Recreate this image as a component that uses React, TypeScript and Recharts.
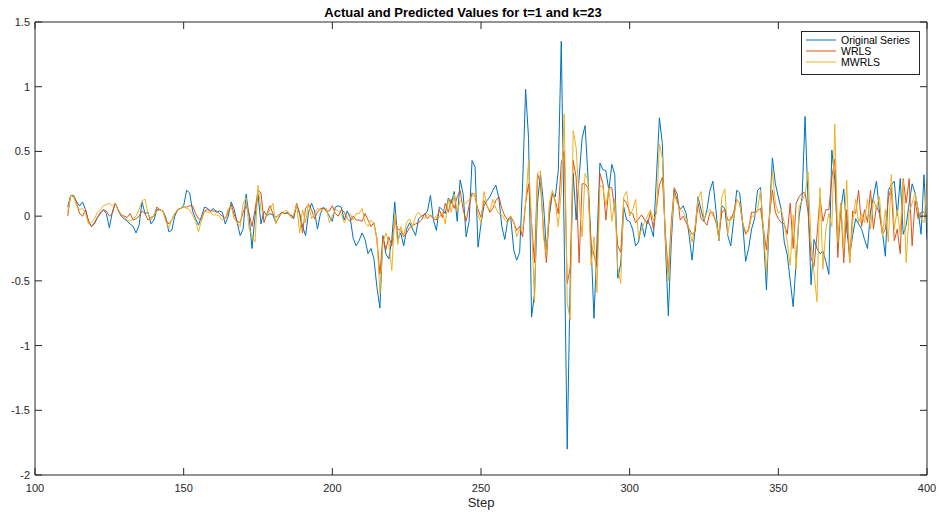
import React from "react";
import { LineChart, Line, XAxis, YAxis, Legend } from "recharts";

const firstStep = 111;

const original = [
  0.07, 0.16, 0.16, 0.11, 0.08, 0.11, 0.05, -0.04, -0.08, -0.06,
  -0.01, 0.02, 0.05, 0.02, -0.09, 0.03, 0.10, 0.04, 0.00, -0.02,
  -0.04, -0.06, -0.08, -0.13, -0.07, 0.11, 0.02, 0.03, -0.06, -0.03,
  0.05, 0.05, 0.04, -0.01, -0.12, -0.11, 0.00, 0.05, 0.06, 0.08,
  0.20, 0.18, 0.04, -0.02, -0.07, 0.00, 0.07, 0.06, 0.04, 0.06,
  0.03, 0.04, 0.03, -0.06, 0.00, 0.11, 0.05, -0.05, -0.15, -0.10,
  0.17, 0.00, -0.25, 0.00, 0.17, -0.06, 0.04, 0.00, 0.02, 0.01,
  -0.05, -0.01, 0.03, 0.02, 0.03, 0.00, -0.02, 0.09, 0.02, -0.08,
  -0.15, 0.03, 0.10, 0.04, -0.10, 0.02, 0.07, 0.04, 0.00, -0.04,
  0.07, 0.08, 0.07, -0.03, 0.04, -0.01, -0.17, -0.23, -0.19, -0.13,
  -0.18, -0.29, -0.25, -0.33, -0.55, -0.71, -0.15, -0.29, -0.33, -0.18,
  0.11, -0.18, -0.13, -0.23, -0.10, -0.05, -0.10, -0.15, -0.02, 0.00,
  0.01, 0.04, 0.16, -0.03, -0.11, 0.07, 0.05, 0.02, 0.14, 0.10,
  0.19, -0.04, 0.28, 0.17, -0.16, -0.04, 0.43, 0.38, -0.24, -0.06,
  0.08, 0.12, 0.15, 0.20, 0.24, 0.14, -0.08, -0.18, -0.03, -0.01,
  -0.26, -0.34, -0.28, 0.25, 0.98, 0.60, -0.78, -0.60, 0.10, 0.33,
  0.10, -0.26, 0.00, 0.18, 0.15, 0.35, 1.35, -0.20, -1.80, -0.50,
  0.33, -0.03, 0.30, 0.60, 0.70, 0.30, -0.21, -0.79, -0.20, 0.41,
  0.36, 0.35, 0.20, 0.40, 0.32, -0.48, -0.37, 0.07, -0.03, -0.04,
  -0.10, -0.23, -0.20, -0.05, -0.16, -0.03, -0.08, -0.16, 0.30, 0.76,
  0.56, -0.20, -0.77, -0.20, 0.20, 0.12, 0.05, 0.08, 0.02, -0.15,
  -0.34, -0.10, 0.15, 0.05, -0.04, 0.05, 0.20, 0.27, 0.05, -0.19,
  0.08, 0.06, -0.15, -0.23, -0.03, 0.20, 0.18, -0.05, -0.35, -0.25,
  -0.10, -0.02, 0.20, 0.22, -0.15, -0.57, 0.00, 0.45, 0.25, 0.15,
  0.05, -0.20, -0.30, -0.50, -0.70, -0.35, 0.00, 0.15, 0.77, 0.10,
  -0.53, -0.18, -0.25, -0.29, -0.27, -0.35, -0.45, 0.51, 0.28, -0.20,
  0.05, 0.21, -0.10, -0.30, -0.15, -0.02, -0.06, -0.10, -0.18, -0.25,
  0.04, 0.15, 0.27, 0.04, -0.12, -0.31, 0.20, 0.24, 0.27, 0.00,
  0.29, -0.14, -0.07, 0.10, 0.25, 0.18, 0.05, -0.14, 0.32, -0.18,
];

const wrls = [
  0.00, 0.16, 0.15, 0.10, 0.02, 0.00, 0.05, -0.04, -0.08, -0.05,
  -0.01, 0.03, 0.05, 0.04, 0.00, 0.02, 0.10, 0.05, 0.01, 0.00,
  -0.01, 0.02, -0.03, -0.02, 0.00, 0.04, 0.02, -0.03, -0.01, 0.00,
  0.07, 0.05, 0.04, -0.03, -0.06, -0.03, 0.02, 0.05, 0.06, 0.07,
  0.07, 0.08, 0.08, 0.02, -0.02, -0.03, 0.04, 0.05, 0.04, 0.04,
  0.04, 0.02, 0.00, -0.02, 0.03, 0.09, 0.01, -0.04, -0.05, 0.03,
  0.08, 0.02, -0.08, 0.05, 0.20, 0.18, -0.05, 0.02, 0.08, 0.02,
  -0.01, 0.01, 0.03, 0.02, 0.02, 0.01, -0.01, 0.10, 0.02, -0.13,
  0.06, 0.09, 0.05, -0.02, 0.03, 0.06, 0.06, 0.04, 0.04, 0.08,
  0.02, 0.00, 0.05, 0.03, -0.02, -0.04, 0.00, -0.03, -0.03, -0.04,
  0.02, -0.03, -0.08, -0.05, -0.18, -0.45, -0.16, -0.26, -0.16, -0.23,
  -0.03, -0.10, -0.11, -0.16, -0.13, -0.09, -0.07, -0.06, -0.05, -0.03,
  0.02, -0.02, 0.01, -0.02, -0.03, 0.05, -0.01, 0.10, 0.03, 0.13,
  0.06, 0.15, 0.20, 0.05, -0.04, 0.08, 0.18, 0.15, 0.05, -0.01,
  0.12, 0.08, 0.03, 0.06, 0.12, 0.15, 0.06, 0.00, -0.03, 0.00,
  -0.05, -0.11, -0.08, -0.16, 0.10, 0.25, -0.05, -0.36, 0.33, 0.25,
  -0.10, -0.36, 0.05, 0.18, 0.12, 0.02, 0.41, 0.50, -0.52, -0.40,
  0.43, 0.30, -0.36, 0.25, 0.25, 0.22, -0.21, -0.30, -0.39, 0.33,
  0.25, -0.03, 0.22, 0.22, 0.05, -0.23, -0.28, 0.13, 0.10, 0.03,
  0.02, -0.05, -0.02, 0.01, -0.03, -0.06, 0.03, -0.10, 0.06, 0.24,
  0.30, -0.13, -0.44, -0.05, 0.22, 0.17, -0.03, 0.00, -0.05, -0.10,
  -0.14, -0.12, 0.10, -0.02, -0.04, -0.07, 0.03, 0.03, -0.05, -0.14,
  0.03, 0.05, -0.03, -0.03, 0.03, 0.13, 0.10, -0.05, -0.14, -0.10,
  0.03, 0.03, 0.04, 0.06, -0.10, -0.26, 0.00, 0.20, 0.03, -0.02,
  -0.05, -0.06, -0.14, 0.10, -0.25, 0.10, 0.15, 0.18, 0.18, 0.03,
  -0.32, -0.39, -0.15, 0.14, -0.04, 0.05, 0.05, 0.30, 0.44, -0.32,
  0.10, -0.36, 0.05, -0.36, 0.04, 0.02, 0.20, -0.08, 0.05, -0.05,
  0.20, -0.10, 0.08, 0.02, -0.14, -0.10, 0.14, 0.22, -0.19, -0.10,
  -0.29, 0.29, 0.10, 0.29, -0.23, 0.12, -0.02, 0.03, 0.03, 0.00,
];

const mwrls = [
  0.03, 0.16, 0.15, 0.08, 0.05, 0.06, 0.02, -0.06, -0.05, -0.02,
  0.03, 0.05, 0.08, 0.09, 0.10, 0.08, 0.10, 0.04, 0.01, -0.01,
  -0.03, -0.04, -0.02, 0.00, 0.05, 0.12, 0.13, 0.02, -0.03, 0.01,
  0.04, 0.05, 0.04, -0.04, -0.09, -0.03, 0.02, 0.05, 0.06, 0.07,
  0.06, 0.05, 0.01, -0.04, -0.12, -0.03, 0.04, 0.03, 0.03, 0.01,
  0.01, 0.00, -0.03, -0.02, 0.06, 0.07, -0.02, -0.05, -0.08, 0.10,
  0.14, -0.10, -0.15, -0.20, 0.24, 0.05, 0.03, 0.00, 0.05, 0.10,
  -0.06, 0.00, 0.02, 0.04, 0.04, -0.01, 0.01, 0.09, -0.13, 0.05,
  -0.05, 0.10, -0.02, 0.02, 0.06, 0.05, 0.05, 0.06, -0.05, 0.00,
  0.05, 0.04, 0.02, -0.05, 0.00, 0.02, -0.03, 0.02, 0.02, 0.06,
  -0.05, -0.08, -0.03, -0.06, -0.17, -0.60, -0.21, -0.13, -0.20, -0.42,
  0.02, -0.22, -0.08, -0.15, -0.05, -0.02, -0.08, 0.00, 0.03, 0.00,
  -0.02, 0.02, 0.00, -0.02, 0.00, -0.01, 0.03, -0.06, 0.13, 0.03,
  0.17, 0.04, 0.12, 0.10, 0.10, 0.13, 0.15, 0.18, 0.01, -0.05,
  0.19, 0.08, 0.04, 0.13, 0.06, 0.02, 0.01, -0.03, -0.05, 0.00,
  -0.04, -0.16, -0.10, -0.10, 0.10, 0.43, -0.05, -0.67, 0.33, 0.35,
  -0.16, -0.30, 0.10, 0.20, 0.10, -0.08, 0.20, 0.79, -0.67, -0.80,
  0.66, 0.53, 0.13, -0.16, 0.33, 0.28, -0.38, -0.16, -0.59, 0.24,
  0.22, 0.08, 0.22, -0.04, 0.13, -0.40, -0.52, 0.15, 0.19, 0.00,
  0.05, 0.13, -0.17, -0.10, -0.05, 0.00, 0.05, -0.03, 0.02, 0.56,
  0.45, -0.18, -0.50, -0.10, 0.18, 0.10, 0.05, 0.03, -0.02, -0.10,
  -0.20, -0.08, 0.13, 0.19, -0.03, 0.03, 0.05, 0.00, -0.02, -0.18,
  0.15, 0.21, -0.14, 0.00, -0.02, 0.13, 0.10, -0.05, -0.12, -0.12,
  0.00, 0.00, 0.05, 0.20, -0.10, -0.44, -0.02, 0.35, 0.10, 0.02,
  0.05, -0.05, -0.20, -0.38, 0.01, -0.41, 0.07, 0.12, 0.17, 0.34,
  -0.20, -0.44, -0.66, 0.22, -0.41, -0.10, 0.02, -0.08, 0.71, -0.20,
  0.10, -0.25, 0.28, -0.36, -0.05, 0.13, -0.05, 0.02, -0.05, 0.13,
  -0.10, 0.13, 0.06, 0.15, -0.15, 0.05, -0.20, 0.32, -0.10, 0.05,
  -0.14, 0.28, -0.36, 0.03, 0.10, 0.18, 0.05, -0.02, -0.05, 0.28,
];

const xTicks = [100, 150, 200, 250, 300, 350, 400];
const yTicks = [-2, -1.5, -1, -0.5, 0, 0.5, 1, 1.5];
const seriesNames = ["Original Series", "WRLS", "MWRLS"];
const seriesColors = ["#0072BD", "#D95319", "#EDB120"];

const data = original.map((v, i) => ({
  step: firstStep + i,
  original: v,
  wrls: wrls[i],
  mwrls: mwrls[i],
}));

const FONT = "'Liberation Sans', Arial, sans-serif";
const AXIS = "#262626";
const TL = 7;

const BottomTick = (props: any) => {
  const { x, y, payload } = props;
  return (
    <g>
      <line x1={x} y1={y} x2={x} y2={y - TL} stroke={AXIS} strokeWidth={1} />
      <text x={x} y={y + 17} textAnchor="middle" fontSize={11} fill={AXIS} fontFamily={FONT}>
        {payload.value}
      </text>
    </g>
  );
};
const TopTick = (props: any) => {
  const { x, y } = props;
  return <line x1={x} y1={y} x2={x} y2={y + TL} stroke={AXIS} strokeWidth={1} />;
};
const LeftTick = (props: any) => {
  const { x, y, payload } = props;
  return (
    <g>
      <line x1={x} y1={y} x2={x + TL} y2={y} stroke={AXIS} strokeWidth={1} />
      <text x={x - 5} y={y + 4} textAnchor="end" fontSize={11} fill={AXIS} fontFamily={FONT}>
        {payload.value}
      </text>
    </g>
  );
};
const RightTick = (props: any) => {
  const { x, y } = props;
  return <line x1={x} y1={y} x2={x - TL} y2={y} stroke={AXIS} strokeWidth={1} />;
};

const LegendBox = () => (
  <svg width={119} height={44} style={{ display: "block" }}>
    <rect x={0.5} y={0.5} width={118} height={43} fill="#fff" stroke={AXIS} strokeWidth={1} />
    {seriesNames.map((n, i) => (
      <g key={n}>
        <line x1={5} x2={35} y1={9 + i * 11} y2={9 + i * 11} stroke={seriesColors[i]} strokeWidth={1} />
        <text x={40} y={12.5 + i * 11} fontSize={10.5} fill="#000" fontFamily={FONT}>
          {n}
        </text>
      </g>
    ))}
  </svg>
);

export default function App() {
  return (
    <div style={{ position: "absolute", left: 0, top: 0, width: 939, height: 514, background: "#fff" }}>
      <LineChart
        width={939}
        height={514}
        data={data}
        margin={{ top: 17, right: 7, bottom: 19, left: 5 }}
        style={{ fontFamily: FONT }}
      >
        <XAxis
          dataKey="step"
          type="number"
          domain={[100, 400]}
          ticks={xTicks}
          allowDataOverflow
          height={20}
          tickSize={0}
          tickMargin={0}
          tick={<BottomTick />}
          tickLine={false}
          axisLine={{ stroke: AXIS }}
          interval={0}
          label={{ value: "Step", position: "bottom", offset: 3, fontSize: 13, fill: AXIS, fontFamily: FONT }}
        />
        <XAxis
          xAxisId="top"
          orientation="top"
          dataKey="step"
          type="number"
          domain={[100, 400]}
          ticks={xTicks}
          allowDataOverflow
          height={5}
          tickSize={0}
          tickMargin={0}
          tick={<TopTick />}
          tickLine={false}
          axisLine={{ stroke: AXIS }}
          interval={0}
          label={{
            value: "Actual and Predicted Values for t=1 and k=23",
            position: "top",
            offset: 0,
            dx: -18,
            fontSize: 13,
            fontWeight: "bold",
            fill: "#000",
            fontFamily: FONT,
          }}
        />
        <YAxis
          type="number"
          domain={[-2, 1.5]}
          ticks={yTicks}
          allowDataOverflow
          width={30}
          tickSize={0}
          tickMargin={0}
          tick={<LeftTick />}
          tickLine={false}
          axisLine={{ stroke: AXIS }}
          interval={0}
        />
        <YAxis
          yAxisId="right"
          orientation="right"
          type="number"
          domain={[-2, 1.5]}
          ticks={yTicks}
          allowDataOverflow
          width={5}
          tickSize={0}
          tickMargin={0}
          tick={<RightTick />}
          tickLine={false}
          axisLine={{ stroke: AXIS }}
          interval={0}
        />
        <Legend
          layout="vertical"
          align="center"
          verticalAlign="middle"
          content={<LegendBox />}
          wrapperStyle={{ top: 31, left: 801, width: 119, height: 44, right: "auto", bottom: "auto" }}
        />
        <Line dataKey="original" name={seriesNames[0]} stroke={seriesColors[0]} strokeWidth={1} dot={false} isAnimationActive={false} />
        <Line dataKey="wrls" name={seriesNames[1]} stroke={seriesColors[1]} strokeWidth={1} dot={false} isAnimationActive={false} />
        <Line dataKey="mwrls" name={seriesNames[2]} stroke={seriesColors[2]} strokeWidth={1} dot={false} isAnimationActive={false} />
      </LineChart>
    </div>
  );
}
